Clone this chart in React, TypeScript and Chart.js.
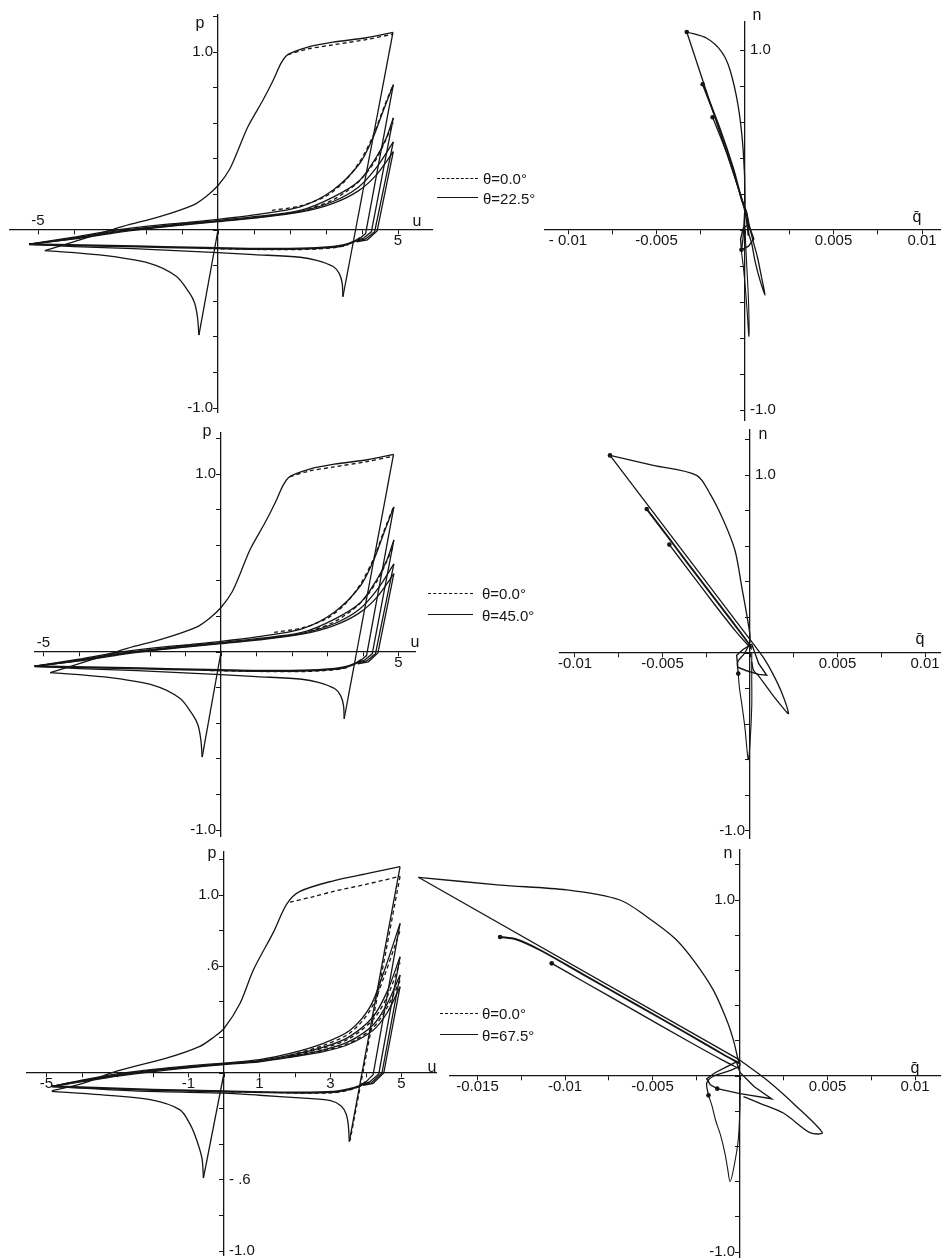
import React, { useEffect, useRef } from 'react';
import { Chart, registerables } from 'chart.js';

Chart.register(...registerables);

type Pt = [number, number];
type Lbl = [number, string];

/* ================= tick labels ================= */
const U_LABELS_12: Lbl[] = [[-5, '-5'], [5, '5']];
const U_LABELS_3: Lbl[] = [[-5, '-5'], [-1, '-1'], [1, '1'], [3, '3'], [5, '5']];
const P_LABELS_12: Lbl[] = [[1, '1.0'], [-1, '-1.0']];
const P_LABELS_3: Lbl[] = [[1, '1.0'], [0.6, '.6'], [-0.6, '- .6'], [-1, '-1.0']];
const Q_LABELS_1: Lbl[] = [[-0.01, '- 0.01'], [-0.005, '-0.005'], [0.005, '0.005'], [0.01, '0.01']];
const Q_LABELS_2: Lbl[] = [[-0.01, '-0.01'], [-0.005, '-0.005'], [0.005, '0.005'], [0.01, '0.01']];
const Q_LABELS_3: Lbl[] = [[-0.015, '-0.015'], [-0.01, '-0.01'], [-0.005, '-0.005'], [0.005, '0.005'], [0.01, '0.01']];
const N_LABELS: Lbl[] = [[1, '1.0'], [-1, '-1.0']];

/* ================= left panels 1 & 2 : u (x) vs p (y) ================= */
const L1_ELASTIC: Pt[] = [[0, 0], [-0.53, -0.59]];
const L1_BUCKLE1: Pt[] = [[-0.53, -0.59], [-0.57, -0.49], [-0.65, -0.41], [-0.79, -0.355], [-1.16, -0.26], [-1.9, -0.187], [-3.29, -0.14], [-4.81, -0.116]];
const L1_ENVELOPE: Pt[] = [[-4.81, -0.116], [-3.75, -0.05], [-2.64, 0.02], [-1.62, 0.075], [-0.69, 0.14], [-0.32, 0.19], [0, 0.25], [0.32, 0.34], [0.56, 0.45], [0.83, 0.58], [1.25, 0.73], [1.53, 0.84], [1.76, 0.94], [1.94, 0.985], [2.45, 1.025], [3.19, 1.055], [4.12, 1.08], [4.86, 1.11]];
const L1_UNLOAD1: Pt[] = [[4.86, 1.11], [3.47, -0.375]];
const L1_BUCKLE2: Pt[] = [[3.47, -0.375], [3.45, -0.3], [3.37, -0.245], [3.2, -0.205], [2.74, -0.17], [2.28, -0.153], [1, -0.138], [0, -0.127], [-2.36, -0.105], [-4, -0.093], [-5.25, -0.08]];
const L1_LOAD2: Pt[] = [[-5.25, -0.08], [-4, -0.04], [-3, -0.005], [-2, 0.02], [-1, 0.04], [0, 0.06], [1, 0.085], [2.28, 0.13], [3.2, 0.225], [3.94, 0.375], [4.31, 0.52], [4.59, 0.67], [4.87, 0.815]];
const L1_LOAD3: Pt[] = [[-5.25, -0.08], [-4, -0.045], [-3, -0.012], [-2, 0.013], [-1, 0.035], [0, 0.053], [1, 0.075], [2.28, 0.11], [3.2, 0.185], [3.94, 0.28], [4.4, 0.41], [4.68, 0.52], [4.87, 0.63]];
const L1_LOAD4: Pt[] = [[-5.25, -0.08], [-4, -0.048], [-3, -0.016], [-2, 0.01], [-1, 0.03], [0, 0.05], [1, 0.07], [2.28, 0.105], [3.2, 0.16], [3.9, 0.24], [4.4, 0.35], [4.87, 0.495]];
const L1_LOAD5: Pt[] = [[-5.25, -0.08], [-4, -0.05], [-3, -0.02], [-2, 0.006], [-1, 0.027], [0, 0.047], [1, 0.067], [2.28, 0.1], [3.2, 0.15], [3.9, 0.22], [4.4, 0.31], [4.87, 0.44]];
const L1_UNLOAD2: Pt[] = [[4.87, 0.815], [4.1, -0.02], [3.95, -0.045]];
const L1_UNLOAD3: Pt[] = [[4.87, 0.63], [4.26, -0.01], [4.05, -0.045], [3.85, -0.058]];
const L1_UNLOAD4: Pt[] = [[4.87, 0.495], [4.35, -0.01], [4.1, -0.05], [3.85, -0.062]];
const L1_UNLOAD5: Pt[] = [[4.87, 0.44], [4.42, -0.005], [4.15, -0.055], [3.85, -0.066]];
const L1_LOWER: Pt[] = [[3.95, -0.045], [3.75, -0.068], [3.5, -0.085], [3.2, -0.095], [2.3, -0.105], [1, -0.106], [0, -0.102], [-1.5, -0.096], [-3, -0.089], [-5.25, -0.08]];
// θ = 0.0° (dashed) where it separates from the solid curves
const L1_D_TOP: Pt[] = [[1.94, 0.985], [2.45, 1.015], [3.19, 1.04], [4.12, 1.07], [4.86, 1.1]];
const L1_D_LOAD2: Pt[] = [[1.5, 0.11], [2.28, 0.135], [3.0, 0.19], [3.5, 0.27], [3.94, 0.385], [4.31, 0.53], [4.59, 0.68], [4.87, 0.82]];
const L1_D_LOAD3: Pt[] = [[2.5, 0.115], [3.2, 0.17], [3.9, 0.27], [4.4, 0.4], [4.87, 0.6]];
const L1_D_LOWER: Pt[] = [[-0.5, -0.103], [1, -0.109], [2.3, -0.11], [3.2, -0.1], [3.6, -0.086]];

/* ================= left panel 3 ================= */
const L3_ELASTIC: Pt[] = [[0, 0], [-0.58, -0.59]];
const L3_BUCKLE1: Pt[] = [[-0.58, -0.59], [-0.62, -0.48], [-0.77, -0.376], [-0.95, -0.29], [-1.24, -0.207], [-2.08, -0.15], [-3.49, -0.122], [-4.85, -0.103]];
const L3_ENVELOPE: Pt[] = [[-4.85, -0.1], [-4, -0.06], [-3.02, 0.01], [-1.6, 0.085], [-0.68, 0.15], [-0.3, 0.2], [0, 0.25], [0.45, 0.39], [0.83, 0.58], [1.39, 0.79], [1.77, 0.95], [2.14, 1.02], [3.08, 1.08], [4.02, 1.12], [4.96, 1.16]];
const L3_UNLOAD1: Pt[] = [[4.96, 1.16], [3.53, -0.385]];
const L3_BUCKLE2: Pt[] = [[3.53, -0.385], [3.5, -0.29], [3.44, -0.23], [3.3, -0.185], [3.0, -0.155], [2.14, -0.14], [1, -0.125], [0, -0.113], [-2.55, -0.1], [-4.85, -0.075]];
const L3_LOAD2: Pt[] = [[-4.85, -0.075], [-4, -0.04], [-3, -0.005], [-2, 0.02], [-1, 0.04], [0, 0.056], [1, 0.075], [1.86, 0.11], [2.8, 0.167], [3.55, 0.24], [4.11, 0.37], [4.49, 0.56], [4.96, 0.84]];
const L3_LOAD3: Pt[] = [[-4.85, -0.075], [-4, -0.043], [-3, -0.01], [-2, 0.016], [-1, 0.036], [0, 0.053], [1, 0.07], [1.86, 0.1], [2.8, 0.145], [3.5, 0.2], [4.2, 0.316], [4.6, 0.46], [4.96, 0.653]];
const L3_LOAD4: Pt[] = [[-4.85, -0.075], [-4, -0.046], [-3, -0.014], [-2, 0.012], [-1, 0.032], [0, 0.05], [1, 0.066], [1.86, 0.093], [2.8, 0.13], [3.5, 0.175], [4.2, 0.27], [4.6, 0.39], [4.96, 0.55]];
const L3_LOAD5: Pt[] = [[-4.85, -0.075], [-4, -0.049], [-3, -0.018], [-2, 0.008], [-1, 0.029], [0, 0.047], [1, 0.063], [1.86, 0.088], [2.8, 0.12], [3.5, 0.16], [4.2, 0.24], [4.6, 0.34], [4.96, 0.485]];
const L3_UNLOAD2: Pt[] = [[4.96, 0.84], [4.2, -0.01], [4.0, -0.05]];
const L3_UNLOAD3: Pt[] = [[4.96, 0.653], [4.36, -0.005], [4.1, -0.05], [3.92, -0.062]];
const L3_UNLOAD4: Pt[] = [[4.96, 0.55], [4.45, 0.0], [4.15, -0.055], [3.92, -0.066]];
const L3_UNLOAD5: Pt[] = [[4.96, 0.485], [4.5, 0.0], [4.2, -0.058], [3.92, -0.07]];
const L3_LOWER: Pt[] = [[4.0, -0.05], [3.8, -0.075], [3.5, -0.092], [3.08, -0.106], [2, -0.11], [0, -0.103], [-2, -0.095], [-4.85, -0.075]];
const L3_D_TOP: Pt[] = [[1.86, 0.96], [2.5, 0.99], [3.08, 1.02], [4.0, 1.06], [4.96, 1.105]];
const L3_D_UNLOAD1: Pt[] = [[4.96, 1.105], [3.55, -0.38]];
const L3_D_LOAD2: Pt[] = [[1.86, 0.1], [2.8, 0.155], [3.55, 0.225], [4.11, 0.35], [4.49, 0.53], [4.96, 0.8]];
const L3_D_LOAD3: Pt[] = [[1.86, 0.095], [2.8, 0.14], [3.5, 0.19], [4.2, 0.3], [4.6, 0.43], [4.96, 0.62]];
const L3_D_LOAD4: Pt[] = [[1.86, 0.09], [2.8, 0.125], [3.5, 0.165], [4.2, 0.255], [4.6, 0.37], [4.96, 0.52]];
const L3_D_LOWER: Pt[] = [[-1, -0.1], [1, -0.108], [3, -0.112], [3.6, -0.092], [4.0, -0.055]];

/* ================= right panels : q̄ (x) vs n (y) ================= */
const R1_SPIKE: Pt[] = [[0, 0], [0.0001, -0.2], [0.0002, -0.4], [0.00022, -0.59], [0.00012, -0.45], [0, -0.3], [-0.0001, -0.2], [-0.0002, -0.12]];
const R1_ENVELOPE: Pt[] = [[-0.0002, -0.12], [-0.0001, -0.03], [0, 0.17], [-0.0001, 0.44], [-0.00038, 0.685], [-0.00085, 0.89], [-0.00132, 0.99], [-0.00216, 1.065], [-0.00329, 1.1]];
const R1_UNLOAD1: Pt[] = [[-0.00329, 1.1], [0.0001, 0.09]];
const R1_LOBE: Pt[] = [[0.0001, 0.09], [0.0004, -0.04], [0.0007, -0.15], [0.00095, -0.27], [0.00113, -0.36], [0.00085, -0.28], [0.00056, -0.17], [0.00038, -0.075], [0.0002, -0.02]];
const R1_CYCLE2: Pt[] = [[0.0002, -0.03], [0.0001, 0.09], [-0.00019, 0.17], [-0.00066, 0.34], [-0.00141, 0.56], [-0.00239, 0.81]];
const R1_CYCLE3: Pt[] = [[0.0002, -0.03], [0, 0.1], [-0.0004, 0.24], [-0.001, 0.42], [-0.00183, 0.626]];
const R1_SMALL: Pt[] = [[0.0002, 0.03], [-0.0001, 0.01], [-0.00025, -0.05], [-0.0002, -0.11], [0.0002, -0.09], [0.0005, -0.05], [0.0002, 0.03]];
const R1_DOTS: Pt[] = [[-0.00329, 1.1], [-0.00239, 0.81], [-0.00183, 0.626], [-0.0002, -0.11]];

const R2_SPIKE: Pt[] = [[0.0001, 0], [0.0001, -0.135], [0.0001, -0.3], [0, -0.51], [-0.0001, -0.6], [-0.00029, -0.42], [-0.00045, -0.3], [-0.0006, -0.2], [-0.00067, -0.116]];
const R2_ENVELOPE: Pt[] = [[-0.00067, -0.116], [-0.0007, -0.05], [-0.0003, 0], [0, 0.07], [-0.0001, 0.165], [-0.00047, 0.371], [-0.00086, 0.578], [-0.00152, 0.747], [-0.00229, 0.897], [-0.00305, 1.0], [-0.00553, 1.056], [-0.008, 1.112]];
const R2_UNLOAD1: Pt[] = [[-0.008, 1.112], [0.0002, 0.05]];
const R2_LOBE: Pt[] = [[0.0002, 0.05], [0.0008, -0.03], [0.0013, -0.116], [0.0018, -0.22], [0.0022, -0.34], [0.0019, -0.31], [0.0014, -0.25], [0.00095, -0.19], [0.0005, -0.13], [0.0002, -0.097], [0.0001, -0.05]];
const R2_SMALL: Pt[] = [[0.0001, 0.05], [-0.0004, 0.02], [-0.00076, -0.013], [-0.0007, -0.08], [-0.0002, -0.1], [0.0005, -0.12], [0.00095, -0.125], [0.0005, -0.06], [0.0001, 0.05]];
const R2_CYCLE2: Pt[] = [[0.0001, 0.03], [-0.0005, 0.11], [-0.0017, 0.265], [-0.0036, 0.51], [-0.0047, 0.655], [-0.0059, 0.81]];
const R2_CYCLE3: Pt[] = [[0.0001, 0.02], [-0.0008, 0.12], [-0.002, 0.27], [-0.0035, 0.465], [-0.00461, 0.61]];
const R2_DOTS: Pt[] = [[-0.008, 1.112], [-0.0059, 0.81], [-0.00461, 0.61], [-0.00067, -0.116]];

const R3_SPIKE: Pt[] = [[0, 0], [0, -0.155], [-0.0001, -0.364], [-0.00038, -0.534], [-0.00057, -0.6], [-0.0007, -0.53], [-0.00086, -0.44], [-0.0011, -0.34], [-0.0014, -0.25], [-0.0016, -0.17], [-0.0018, -0.11]];
const R3_ENVELOPE: Pt[] = [[-0.0018, -0.11], [-0.0019, -0.04], [-0.0015, 0], [-0.0006, 0.03], [0, 0.06], [-0.0001, 0.09], [-0.00038, 0.205], [-0.00076, 0.318], [-0.00153, 0.489], [-0.0026, 0.65], [-0.0037, 0.78], [-0.00533, 0.905], [-0.00686, 1.0], [-0.0099, 1.057], [-0.01371, 1.085], [-0.01838, 1.129]];
const R3_UNLOAD1: Pt[] = [[-0.01838, 1.129], [0, 0.09]];
const R3_LOBE: Pt[] = [[0, 0.09], [0.0015, -0.02], [0.0032, -0.17], [0.0047, -0.322], [0.004, -0.322], [0.0025, -0.212], [0.00114, -0.155], [0.0002, -0.117]];
const R3_SMALL: Pt[] = [[-0.0002, 0.08], [-0.0008, 0.05], [-0.0014, 0.02], [-0.0019, -0.015], [-0.0017, -0.05], [-0.0013, -0.072], [0, -0.1], [0.0018, -0.129], [0.0008, -0.06], [0, 0.02], [-0.0002, 0.08]];
const R3_CYCLE2: Pt[] = [[-0.01371, 0.79], [-0.0128, 0.777], [-0.01143, 0.716], [-0.009, 0.579], [-0.006, 0.41], [-0.003, 0.24], [-0.001, 0.125], [0, 0.07]];
const R3_CYCLE3: Pt[] = [[-0.01076, 0.64], [-0.009, 0.54], [-0.006, 0.37], [-0.003, 0.2], [-0.001, 0.09], [0, 0.04]];
const R3_DOTS: Pt[] = [[-0.01838, 1.129], [-0.01371, 0.79], [-0.01076, 0.64], [-0.0013, -0.072], [-0.0018, -0.11]];

/* ================= legends / titles ================= */
const LEGEND_DASHED = 'θ=0.0°';
const LEGEND_SOLID = ['θ=22.5°', 'θ=45.0°', 'θ=67.5°'];

/* ================= layout ================= */
interface Curve { pts: Pt[]; dash?: boolean; straight?: boolean; w?: number; }
interface PanelCfg {
  left: number; top: number; right: number; bottom: number;
  ox: number; oy: number; sx: number; sy: number;
  xStep: number; yStep: number;
  curves: Curve[]; dots?: Pt[];
  xLabels: Lbl[]; yLabels: Lbl[];
  xAbove?: string[]; yRight?: string[];
}

const INK = '#151515';
const FONT = '15px "Liberation Sans", Arial, sans-serif';

const leftCurves12: Curve[] = [
  { pts: L1_ELASTIC, straight: true },
  { pts: L1_BUCKLE1 },
  { pts: L1_ENVELOPE },
  { pts: L1_UNLOAD1, straight: true },
  { pts: L1_BUCKLE2 },
  { pts: L1_LOAD2 }, { pts: L1_LOAD3 }, { pts: L1_LOAD4 }, { pts: L1_LOAD5 },
  { pts: L1_UNLOAD2, straight: true }, { pts: L1_UNLOAD3, straight: true },
  { pts: L1_UNLOAD4, straight: true }, { pts: L1_UNLOAD5, straight: true },
  { pts: L1_LOWER, w: 2.2 },
  { pts: L1_D_TOP, dash: true }, { pts: L1_D_LOAD2, dash: true },
  { pts: L1_D_LOAD3, dash: true }, { pts: L1_D_LOWER, dash: true },
];
const leftCurves3: Curve[] = [
  { pts: L3_ELASTIC, straight: true },
  { pts: L3_BUCKLE1 },
  { pts: L3_ENVELOPE },
  { pts: L3_UNLOAD1, straight: true },
  { pts: L3_BUCKLE2 },
  { pts: L3_LOAD2 }, { pts: L3_LOAD3 }, { pts: L3_LOAD4 }, { pts: L3_LOAD5 },
  { pts: L3_UNLOAD2, straight: true }, { pts: L3_UNLOAD3, straight: true },
  { pts: L3_UNLOAD4, straight: true }, { pts: L3_UNLOAD5, straight: true },
  { pts: L3_LOWER, w: 2.2 },
  { pts: L3_D_TOP, dash: true }, { pts: L3_D_UNLOAD1, dash: true, straight: true },
  { pts: L3_D_LOAD2, dash: true }, { pts: L3_D_LOAD3, dash: true },
  { pts: L3_D_LOAD4, dash: true }, { pts: L3_D_LOWER, dash: true },
];
const rightCurves = (sp: Pt[], env: Pt[], un: Pt[], lobe: Pt[], c2: Pt[], c3: Pt[], sm: Pt[]): Curve[] => [
  { pts: sp, w: 1.1 }, { pts: env }, { pts: un, straight: true }, { pts: lobe },
  { pts: c2, w: 1.9 }, { pts: c3, w: 1.3 }, { pts: sm, w: 1.4, straight: true },
];

const PANELS: PanelCfg[] = [
  { left: 10, top: 15, right: 432, bottom: 412, ox: 218, oy: 230, sx: 36, sy: 178, xStep: 1, yStep: 0.2,
    curves: leftCurves12, xLabels: U_LABELS_12, yLabels: P_LABELS_12, xAbove: ['-5'] },
  { left: 545, top: 22, right: 940, bottom: 420, ox: 745, oy: 230, sx: 17700, sy: 180, xStep: 0.0025, yStep: 0.2,
    curves: rightCurves(R1_SPIKE, R1_ENVELOPE, R1_UNLOAD1, R1_LOBE, R1_CYCLE2, R1_CYCLE3, R1_SMALL), dots: R1_DOTS,
    xLabels: Q_LABELS_1, yLabels: N_LABELS, yRight: ['1.0', '-1.0'] },
  { left: 35, top: 433, right: 415, bottom: 836, ox: 221, oy: 652, sx: 35.5, sy: 178, xStep: 1, yStep: 0.2,
    curves: leftCurves12, xLabels: U_LABELS_12, yLabels: P_LABELS_12, xAbove: ['-5'] },
  { left: 560, top: 430, right: 940, bottom: 838, ox: 750, oy: 653, sx: 17500, sy: 177.7, xStep: 0.0025, yStep: 0.2,
    curves: rightCurves(R2_SPIKE, R2_ENVELOPE, R2_UNLOAD1, R2_LOBE, R2_CYCLE2, R2_CYCLE3, R2_SMALL), dots: R2_DOTS,
    xLabels: Q_LABELS_2, yLabels: N_LABELS, yRight: ['1.0'] },
  { left: 27, top: 852, right: 436, bottom: 1255, ox: 224, oy: 1073, sx: 35.5, sy: 178, xStep: 1, yStep: 0.2,
    curves: leftCurves3, xLabels: U_LABELS_3, yLabels: P_LABELS_3, yRight: ['- .6', '-1.0'] },
  { left: 450, top: 850, right: 940, bottom: 1257, ox: 740, oy: 1076, sx: 17500, sy: 176, xStep: 0.0025, yStep: 0.2,
    curves: rightCurves(R3_SPIKE, R3_ENVELOPE, R3_UNLOAD1, R3_LOBE, R3_CYCLE2, R3_CYCLE3, R3_SMALL), dots: R3_DOTS,
    xLabels: Q_LABELS_3, yLabels: N_LABELS },
];

const TITLES: [string, number, number][] = [
  ['p', 200, 23], ['u', 417, 221], ['n', 757, 15], ['q\u0304', 917, 217],
  ['p', 207, 431], ['u', 415, 642], ['n', 763, 434], ['q\u0304', 920, 639],
  ['p', 212, 853], ['u', 432, 1067], ['n', 728, 853], ['q\u0304', 915, 1068],
];
const LEGENDS = [
  { x1: 437, x2: 478, tx: 483, y1: 178, y2: 198, label: LEGEND_SOLID[0] },
  { x1: 428, x2: 473, tx: 482, y1: 593, y2: 615, label: LEGEND_SOLID[1] },
  { x1: 440, x2: 478, tx: 482, y1: 1013, y2: 1035, label: LEGEND_SOLID[2] },
];

const PAD = 40;

function textPlugin(cfg: PanelCfg) {
  return {
    id: 'axisText',
    afterDraw(chart: any) {
      const ctx = chart.ctx;
      const xs = chart.scales.x;
      const ys = chart.scales.y;
      const X0 = xs.getPixelForValue(0);
      const Y0 = ys.getPixelForValue(0);
      ctx.save();
      ctx.fillStyle = INK;
      ctx.font = FONT;
      ctx.textBaseline = 'middle';
      for (const [v, t] of cfg.xLabels) {
        const above = cfg.xAbove?.includes(t);
        ctx.textAlign = 'center';
        ctx.fillText(t, xs.getPixelForValue(v), Y0 + (above ? -9 : 11));
      }
      for (const [v, t] of cfg.yLabels) {
        const right = cfg.yRight?.includes(t);
        ctx.textAlign = right ? 'left' : 'right';
        ctx.fillText(t, X0 + (right ? 5 : -5), ys.getPixelForValue(v));
      }
      ctx.restore();
    },
  };
}

function Panel({ cfg }: { cfg: PanelCfg }) {
  const ref = useRef<HTMLCanvasElement>(null);
  const w = cfg.right - cfg.left + 2 * PAD;
  const h = cfg.bottom - cfg.top + 2 * PAD;
  useEffect(() => {
    const xMin = (cfg.left - cfg.ox) / cfg.sx;
    const xMax = (cfg.right - cfg.ox) / cfg.sx;
    const yMax = (cfg.oy - cfg.top) / cfg.sy;
    const yMin = (cfg.oy - cfg.bottom) / cfg.sy;
    const datasets: any[] = cfg.curves.map((c) => ({
      data: c.pts.map(([x, y]) => ({ x, y })),
      showLine: true,
      borderColor: INK,
      borderWidth: c.w ?? 1.3,
      borderDash: c.dash ? [4, 3] : [],
      pointRadius: 0,
      tension: c.straight ? 0 : 0.3,
      fill: false,
      clip: false,
    }));
    if (cfg.dots) {
      datasets.push({
        data: cfg.dots.map(([x, y]) => ({ x, y })),
        showLine: false,
        pointRadius: 2.3,
        pointBackgroundColor: INK,
        pointBorderWidth: 0,
        clip: false,
      });
    }
    const axisCommon = {
      type: 'linear' as const,
      grid: { drawOnChartArea: false, drawTicks: true, tickLength: 4, color: INK, lineWidth: 1 },
      border: { display: true, color: INK, width: 1.3 },
    };
    const chart = new Chart(ref.current as HTMLCanvasElement, {
      type: 'scatter',
      data: { datasets },
      options: {
        animation: false,
        responsive: false,
        events: [],
        layout: { padding: PAD },
        plugins: { legend: { display: false }, tooltip: { enabled: false } },
        scales: {
          x: {
            ...axisCommon, min: xMin, max: xMax, position: { y: 0 } as any,
            ticks: { display: false, stepSize: cfg.xStep, includeBounds: false },
            afterFit: (s: any) => { s.height = 0; },
          },
          y: {
            ...axisCommon, min: yMin, max: yMax, position: { x: 0 } as any,
            ticks: { display: false, stepSize: cfg.yStep, includeBounds: false },
            afterFit: (s: any) => { s.width = 0; },
          },
        } as any,
      },
      plugins: [textPlugin(cfg)],
    });
    return () => chart.destroy();
  }, [cfg]);
  return (
    <canvas
      ref={ref}
      width={w}
      height={h}
      style={{ position: 'absolute', left: cfg.left - PAD, top: cfg.top - PAD, width: w, height: h }}
    />
  );
}

export default function App() {
  return (
    <div style={{ position: 'absolute', left: 0, top: 0, width: 945, height: 1260, background: '#fff', overflow: 'hidden',
      fontFamily: '"Liberation Sans", Arial, sans-serif', color: INK }}>
      {PANELS.map((p, i) => <Panel key={i} cfg={p} />)}
      {TITLES.map(([t, x, y], i) => (
        <span key={'t' + i} style={{ position: 'absolute', left: x, top: y, transform: 'translate(-50%, -50%)', fontSize: 16, lineHeight: 1 }}>{t}</span>
      ))}
      {LEGENDS.map((l, i) => (
        <React.Fragment key={'l' + i}>
          <div style={{ position: 'absolute', left: l.x1, top: l.y1, width: l.x2 - l.x1, borderTop: `1.5px dashed ${INK}` }} />
          <span style={{ position: 'absolute', left: l.tx, top: l.y1, transform: 'translateY(-50%)', fontSize: 15, lineHeight: 1 }}>{LEGEND_DASHED}</span>
          <div style={{ position: 'absolute', left: l.x1, top: l.y2 - 1, width: l.x2 - l.x1, borderTop: `1.8px solid ${INK}` }} />
          <span style={{ position: 'absolute', left: l.tx, top: l.y2, transform: 'translateY(-50%)', fontSize: 15, lineHeight: 1 }}>{l.label}</span>
        </React.Fragment>
      ))}
    </div>
  );
}
